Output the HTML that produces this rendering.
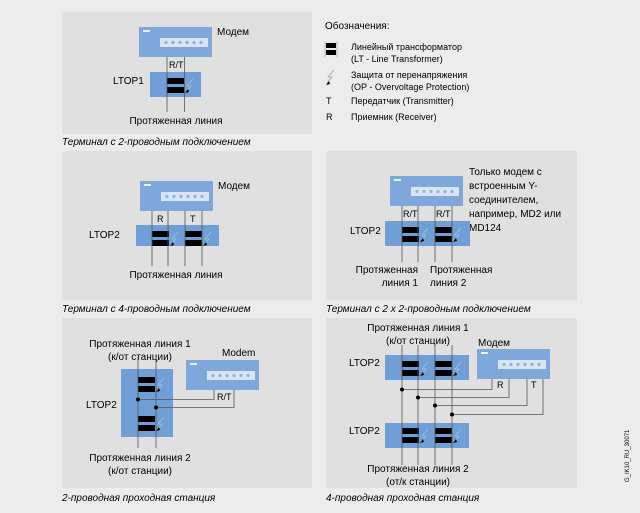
<!DOCTYPE html>
<html><head><meta charset="utf-8"><style>
html,body{margin:0;padding:0;background:#ececec;}
svg{display:block;font-family:"Liberation Sans",sans-serif;}
</style></head><body>
<svg width="640" height="513" viewBox="0 0 640 513" xmlns="http://www.w3.org/2000/svg">
<defs>
<g id="modem">
<rect x="0" y="0" width="73" height="30" fill="#7ea8dc"/>
<rect x="4" y="3" width="7" height="2" fill="#e8f0fa"/>
<rect x="21" y="11" width="48" height="9" fill="#d9e5f4"/>
<g fill="#8fb2de"><circle cx="27" cy="15.5" r="1.6"/><circle cx="34" cy="15.5" r="1.6"/><circle cx="41" cy="15.5" r="1.6"/><circle cx="48" cy="15.5" r="1.6"/><circle cx="55" cy="15.5" r="1.6"/><circle cx="62" cy="15.5" r="1.6"/></g>
</g>
<g id="xf">
<rect x="0" y="0" width="17" height="6" fill="#000"/>
<rect x="0" y="9" width="17" height="6" fill="#000"/>
<path d="M26 1 L20 8 L24 8 L19 14" stroke="#9fc0e6" stroke-width="0.8" fill="none"/>
<path d="M18 15 L21 11 L22 14 Z" fill="#000"/>
</g>
</defs>
<rect width="640" height="513" fill="#ececec"/>
<g fill="#e0e0e0">
<rect x="62" y="12" width="250" height="122"/>
<rect x="62" y="151" width="250" height="149"/>
<rect x="326" y="151" width="251" height="149"/>
<rect x="62" y="318" width="250" height="170"/>
<rect x="326" y="318" width="251" height="170"/>
</g>
<g font-size="10" fill="#000">
<!-- Panel 1 -->
<use href="#modem" x="139" y="27"/>
<text x="217" y="35">Модем</text>
<rect x="150" y="72" width="51" height="25" fill="#6f9fd6"/>
<use href="#xf" x="167" y="78"/>
<g stroke="#555" stroke-width="0.8"><line x1="167" y1="57" x2="167" y2="112"/><line x1="184.5" y1="57" x2="184.5" y2="112"/></g>
<text x="169" y="68" font-size="9">R/T</text>
<text x="113" y="84">LTOP1</text>
<text x="176" y="124" text-anchor="middle">Протяженная линия</text>
<text x="62" y="145" font-style="italic">Терминал с 2-проводным подключением</text>
<!-- Legend -->
<text x="325" y="29">Обозначения:</text>
<rect x="326" y="43" width="10" height="5" fill="#000"/><rect x="326" y="50" width="10" height="5" fill="#000"/>
<line x1="325" y1="41" x2="325" y2="57" stroke="#999" stroke-width="0.6"/><line x1="337" y1="41" x2="337" y2="57" stroke="#999" stroke-width="0.6"/>
<text x="351" y="50" font-size="9">Линейный трансформатор</text>
<text x="351" y="62" font-size="9">(LT - Line Transformer)</text>
<path d="M334 70 L328 77 L332 77 L327 83" stroke="#999" stroke-width="0.7" fill="none"/>
<path d="M326 85 L329 81 L330 84 Z" fill="#000"/>
<text x="351" y="78" font-size="9">Защита от перенапряжения</text>
<text x="351" y="90" font-size="9">(OP - Overvoltage Protection)</text>
<text x="326" y="104" font-size="9">T</text><text x="351" y="104" font-size="9">Передатчик (Transmitter)</text>
<text x="326" y="120" font-size="9">R</text><text x="351" y="120" font-size="9">Приемник (Receiver)</text>
<!-- Panel 2 -->
<use href="#modem" x="140" y="181"/>
<text x="218" y="189">Модем</text>
<rect x="136" y="225" width="83" height="21" fill="#6f9fd6"/>
<use href="#xf" x="152" y="231"/><use href="#xf" x="185" y="231"/>
<g stroke="#555" stroke-width="0.8"><line x1="152" y1="211" x2="152" y2="266"/><line x1="168" y1="211" x2="168" y2="266"/><line x1="185" y1="211" x2="185" y2="266"/><line x1="202" y1="211" x2="202" y2="266"/></g>
<text x="157" y="222" font-size="9">R</text><text x="190" y="222" font-size="9">T</text>
<text x="89" y="238">LTOP2</text>
<text x="176" y="278" text-anchor="middle">Протяженная линия</text>
<text x="62" y="312" font-style="italic">Терминал с 4-проводным подключением</text>
<!-- Panel 3 -->
<use href="#modem" x="390" y="176"/>
<text x="469" y="175">Только модем с</text>
<text x="469" y="189">встроенным Y-</text>
<text x="469" y="203">соединителем,</text>
<text x="469" y="217">например, MD2 или</text>
<text x="469" y="231">MD124</text>
<rect x="385" y="221" width="85" height="25" fill="#6f9fd6"/>
<use href="#xf" x="402" y="227"/><use href="#xf" x="435" y="227"/>
<g stroke="#555" stroke-width="0.8"><line x1="402" y1="206" x2="402" y2="262"/><line x1="418" y1="206" x2="418" y2="262"/><line x1="435" y1="206" x2="435" y2="262"/><line x1="452" y1="206" x2="452" y2="262"/></g>
<text x="403" y="217" font-size="9">R/T</text><text x="436" y="217" font-size="9">R/T</text>
<text x="350" y="234">LTOP2</text>
<text x="418" y="273" text-anchor="end">Протяженная</text>
<text x="418" y="286" text-anchor="end">линия 1</text>
<text x="430" y="273">Протяженная</text>
<text x="430" y="286">линия 2</text>
<text x="326" y="312" font-style="italic">Терминал с 2 х 2-проводным подключением</text>
<!-- Panel 4 -->
<text x="140" y="347" text-anchor="middle">Протяженная линия 1</text>
<text x="140" y="360" text-anchor="middle">(к/от станции)</text>
<text x="222" y="356">Modem</text>
<use href="#modem" x="186" y="360"/>
<rect x="121" y="369" width="52" height="68" fill="#6f9fd6"/>
<use href="#xf" x="138" y="377"/><use href="#xf" x="138" y="416"/>
<g stroke="#555" stroke-width="0.8" fill="none"><line x1="138" y1="357" x2="138" y2="448"/><line x1="156" y1="357" x2="156" y2="448"/>
<polyline points="138,399.5 214,399.5 214,390"/><polyline points="156,407.5 234,407.5 234,390"/></g>
<circle cx="138" cy="399.5" r="2" fill="#000"/><circle cx="156" cy="407.5" r="2" fill="#000"/>
<text x="217" y="400" font-size="9">R/T</text>
<text x="86" y="408">LTOP2</text>
<text x="140" y="461" text-anchor="middle">Протяженная линия 2</text>
<text x="140" y="474" text-anchor="middle">(к/от станции)</text>
<text x="62" y="501" font-style="italic">2-проводная проходная станция</text>
<!-- Panel 5 -->
<text x="418" y="331" text-anchor="middle">Протяженная линия 1</text>
<text x="418" y="344" text-anchor="middle">(к/от станции)</text>
<text x="478" y="346">Модем</text>
<use href="#modem" x="477" y="349"/>
<rect x="385" y="355" width="84" height="25" fill="#6f9fd6"/>
<rect x="385" y="423" width="84" height="25" fill="#6f9fd6"/>
<use href="#xf" x="402" y="361"/><use href="#xf" x="435" y="361"/>
<use href="#xf" x="402" y="428"/><use href="#xf" x="435" y="428"/>
<g stroke="#555" stroke-width="0.8" fill="none">
<line x1="402" y1="345" x2="402" y2="465"/><line x1="418" y1="345" x2="418" y2="465"/><line x1="435" y1="345" x2="435" y2="465"/><line x1="452" y1="345" x2="452" y2="465"/>
<polyline points="402,389.5 492,389.5 492,379"/><polyline points="418,397.5 509,397.5 509,379"/>
<polyline points="435,405.5 527,405.5 527,379"/><polyline points="452,414.5 543,414.5 543,379"/></g>
<g fill="#000"><circle cx="402" cy="389.5" r="2"/><circle cx="418" cy="397.5" r="2"/><circle cx="435" cy="405.5" r="2"/><circle cx="452" cy="414.5" r="2"/></g>
<text x="497" y="388" font-size="9">R</text><text x="531" y="388" font-size="9">T</text>
<text x="349" y="366">LTOP2</text>
<text x="349" y="434">LTOP2</text>
<text x="418" y="472" text-anchor="middle">Протяженная линия 2</text>
<text x="418" y="485" text-anchor="middle">(от/к станции)</text>
<text x="326" y="501" font-style="italic">4-проводная проходная станция</text>
<text transform="translate(629,482) rotate(-90)" font-size="6">G_IK10_RU_30071</text>
</g>
</svg>
</body></html>
